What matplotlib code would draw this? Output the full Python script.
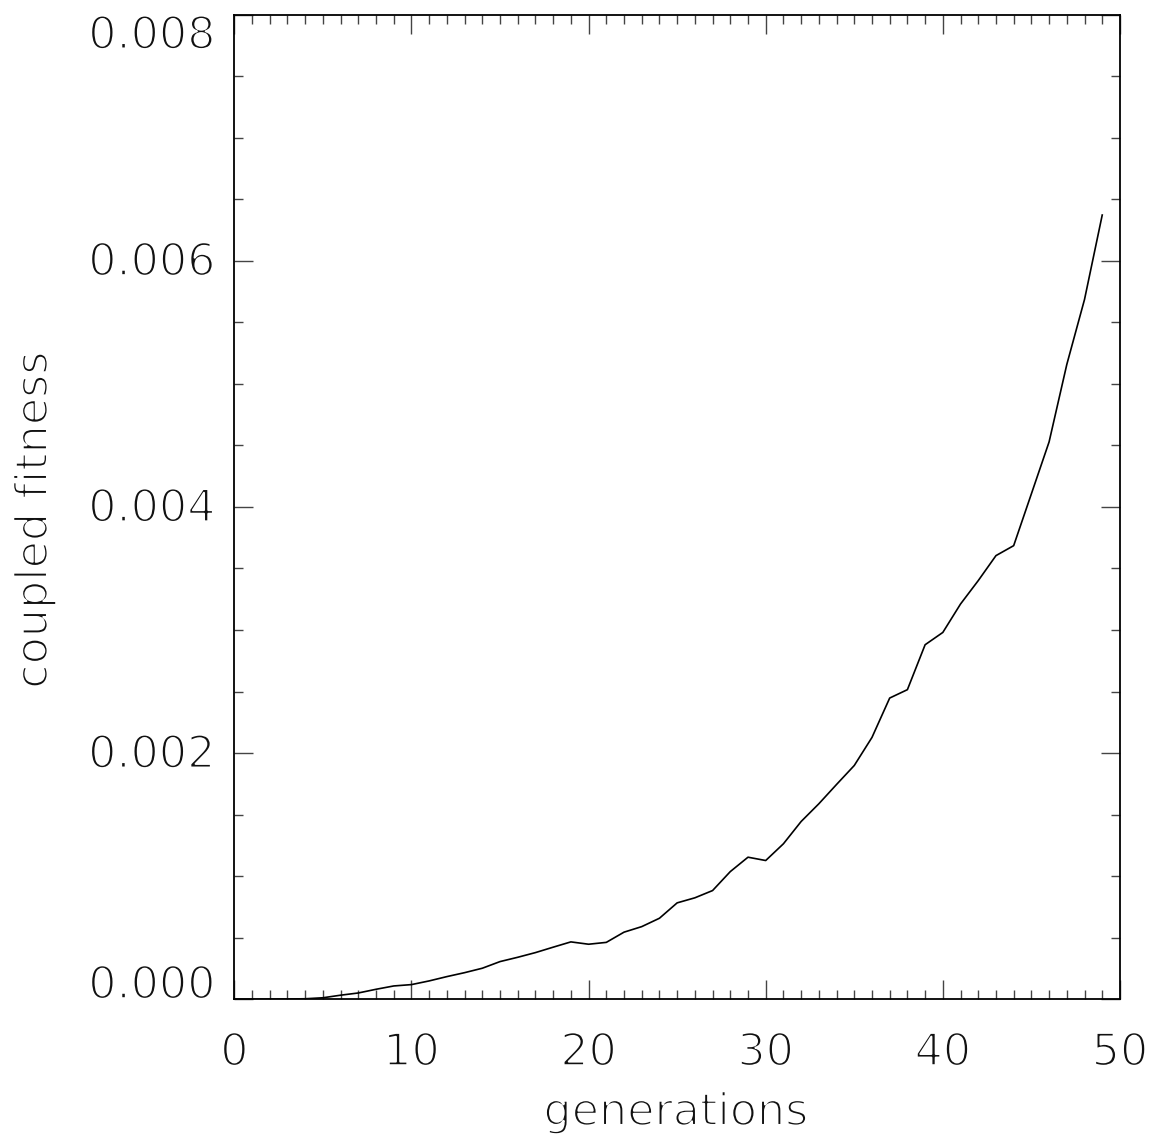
import matplotlib
matplotlib.use("Agg")
import matplotlib.pyplot as plt
import matplotlib.transforms as mtransforms
import matplotlib.patheffects as pe
from matplotlib.ticker import MultipleLocator

# values, one per generation
generations = list(range(50))
coupled_fitness = [
    0.0, 0.0, 0.000001, 0.000002, 0.000004, 0.000012, 0.000033, 0.000051, 0.000081, 0.000108,
    0.000119, 0.000149, 0.000184, 0.000216, 0.000252, 0.000306, 0.000341, 0.000379, 0.000423, 0.000466,
    0.000447, 0.000462, 0.000545, 0.000590, 0.000658, 0.000783, 0.000824, 0.000883, 0.001037, 0.001154,
    0.001127, 0.001263, 0.001444, 0.001588, 0.001745, 0.001899, 0.002127, 0.002447, 0.002515, 0.002880,
    0.002980, 0.003211, 0.003401, 0.003604, 0.003685, 0.004106, 0.004528, 0.005157, 0.005685, 0.006371,
]
x_ticks = [0, 10, 20, 30, 40, 50]
x_tick_labels = ['0', '10', '20', '30', '40', '50']
y_ticks = [0.000, 0.002, 0.004, 0.006, 0.008]
y_tick_labels = ['0.000', '0.002', '0.004', '0.006', '0.008']

plt.rcParams['font.family'] = ['DejaVu Sans']
# thin the glyphs by painting a white outline over them (the original uses a hairline font)
thin = [pe.Normal(), pe.Stroke(linewidth=1.5, foreground='white')]
font_kw = dict(fontsize=32, color='#111111', path_effects=thin)

fig = plt.figure(figsize=(11.59, 11.42), dpi=100)
ax = fig.add_axes((0.2022, 0.1250, 0.7641, 0.8623))

ax.plot(generations, coupled_fitness, color='black', linewidth=1.2)

ax.set_xlim(0, 50)
ax.set_ylim(0, 0.008)

ax.xaxis.set_major_locator(MultipleLocator(10))
ax.xaxis.set_minor_locator(MultipleLocator(1))
ax.yaxis.set_major_locator(MultipleLocator(0.002))
ax.yaxis.set_minor_locator(MultipleLocator(0.0005))
ax.tick_params(which='both', direction='in', top=True, right=True,
               color='#444444', width=1.0, labelleft=False, labelbottom=False)
ax.tick_params(which='major', length=13.5)
ax.tick_params(which='minor', length=6.7)
for sp in ax.spines.values():
    sp.set_linewidth(1.3)

# tick labels drawn by hand so the end labels sit inside the axis range, as in IDL
ytrans = ax.get_yaxis_transform()
for i, (v, lab) in enumerate(zip(y_ticks, y_tick_labels)):
    va = 'center'
    dy = -2
    if i == 0:
        va, dy = 'baseline', 1
    elif i == len(y_ticks) - 1:
        va, dy = 'top', 0
    tr = mtransforms.offset_copy(ytrans, fig=fig, x=-19, y=dy, units='dots')
    ax.text(0, v, lab, transform=tr, ha='right', va=va, **font_kw)

xtrans = ax.get_xaxis_transform()
for v, lab in zip(x_ticks, x_tick_labels):
    tr = mtransforms.offset_copy(xtrans, fig=fig, x=0, y=-32, units='dots')
    ax.text(v, 0, lab, transform=tr, ha='center', va='top', **font_kw)

fig.text(676 / 1159, 1 - 1125 / 1142, 'generations', ha='center', va='baseline', **font_kw)
fig.text(47 / 1159, 1 - 520 / 1142, 'coupled fitness', ha='center', va='baseline',
         rotation=90, rotation_mode='anchor', **font_kw)

fig.savefig('out.png', dpi=100)
